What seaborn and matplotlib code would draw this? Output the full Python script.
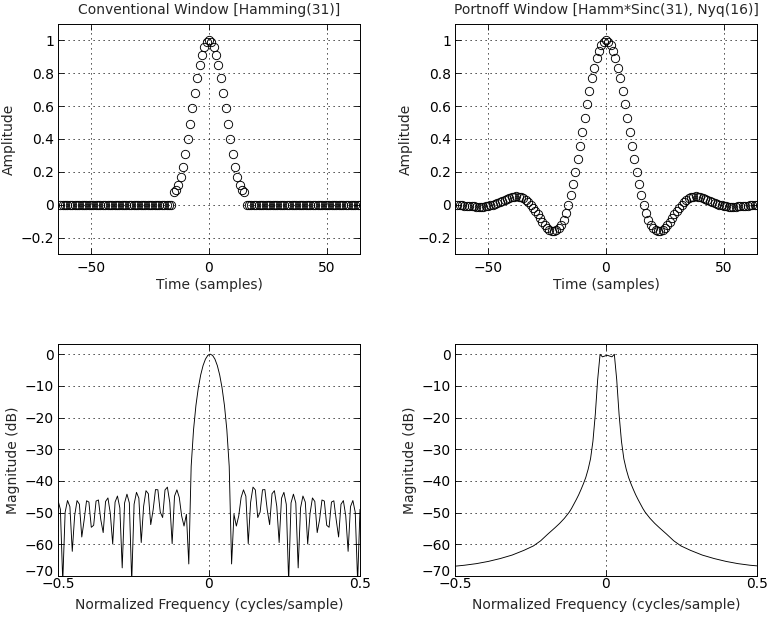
import numpy as np
import pandas as pd
import matplotlib
matplotlib.use("Agg")
import matplotlib.pyplot as plt
import matplotlib.transforms as mtransforms
import seaborn as sns

# ---------------- data ----------------
time_samples = list(range(-63, 65))  # 128 samples

hamming31 = [0.080, 0.090, 0.120, 0.168, 0.232, 0.310, 0.398, 0.492, 0.588, 0.682,
             0.770, 0.848, 0.912, 0.960, 0.990, 1.000, 0.990, 0.960, 0.912, 0.848,
             0.770, 0.682, 0.588, 0.492, 0.398, 0.310, 0.232, 0.168, 0.120, 0.090, 0.080]
conventional_window = [0.0] * 48 + hamming31 + [0.0] * 49

portnoff_window = [
    -0.0013, -0.0026, -0.0039, -0.0053, -0.0067, -0.0081, -0.0094, -0.0105, -0.0113, -0.0117,
    -0.0116, -0.0109, -0.0095, -0.0072, -0.0040, 0.0, 0.0049, 0.0105, 0.0167, 0.0233,
    0.0299, 0.0362, 0.0418, 0.0463, 0.0493, 0.0503, 0.0490, 0.0450, 0.0382, 0.0284,
    0.0156, 0.0, -0.0180, -0.0380, -0.0593, -0.0810, -0.1022, -0.1219, -0.1389, -0.1519,
    -0.1600, -0.1619, -0.1566, -0.1432, -0.1212, -0.0901, -0.0496, 0.0, 0.0583, 0.1247,
    0.1980, 0.2768, 0.3598, 0.4450, 0.5305, 0.6143, 0.6944, 0.7687, 0.8352, 0.8924,
    0.9385, 0.9723, 0.9930, 1.0, 0.9930, 0.9723, 0.9385, 0.8924, 0.8352, 0.7687,
    0.6944, 0.6143, 0.5305, 0.4450, 0.3598, 0.2768, 0.1980, 0.1247, 0.0583, 0.0,
    -0.0496, -0.0901, -0.1212, -0.1432, -0.1566, -0.1619, -0.1600, -0.1519, -0.1389, -0.1219,
    -0.1022, -0.0810, -0.0593, -0.0380, -0.0180, 0.0, 0.0156, 0.0284, 0.0382, 0.0450,
    0.0490, 0.0503, 0.0493, 0.0463, 0.0418, 0.0362, 0.0299, 0.0233, 0.0167, 0.0105,
    0.0049, 0.0, -0.0040, -0.0072, -0.0095, -0.0109, -0.0116, -0.0117, -0.0113, -0.0105,
    -0.0094, -0.0081, -0.0067, -0.0053, -0.0039, -0.0026, -0.0013, 0.0]

# spectrum of the conventional window, one value per FFT bin (-64 .. 63)
conventional_db = [
    -46.17, -48.96, -71.8, -49.90, -46.18, -48.13, -62.22, -50.99, -46.21, -47.37,
    -57.69, -52.31, -46.27, -46.67, -54.63, -54.00, -46.36, -46.01, -52.25, -56.30,
    -46.49, -45.37, -50.27, -59.89, -46.68, -44.76, -48.52, -67.44, -46.95, -44.17,
    -46.93, -71.8, -47.36, -43.60, -45.44, -59.44, -48.02, -43.09, -44.05, -53.79,
    -49.17, -42.74, -42.80, -49.82, -51.56, -42.85, -41.96, -46.77, -59.78, -44.82,
    -42.81, -45.23, -51.07, -54.24, -50.54, -66.2, -35.40, -23.83, -16.21, -10.68,
    -6.58, -3.61, -1.58, -0.39, 0.0, -0.39, -1.58, -3.61, -6.58, -10.68,
    -16.21, -23.83, -35.40, -66.2, -50.54, -54.24, -51.07, -45.23, -42.81, -44.82,
    -59.78, -46.77, -41.96, -42.85, -51.56, -49.82, -42.80, -42.74, -49.17, -53.79,
    -44.05, -43.09, -48.02, -59.44, -45.44, -43.60, -47.36, -71.8, -46.93, -44.17,
    -46.95, -67.44, -48.52, -44.76, -46.68, -59.89, -50.27, -45.37, -46.49, -56.30,
    -52.25, -46.01, -46.36, -54.00, -54.63, -46.67, -46.27, -52.31, -57.69, -47.37,
    -46.21, -50.99, -62.22, -48.13, -46.18, -49.90, -71.8, -48.96]

# spectrum of the Portnoff window, read at selected FFT bins
portnoff_bins = [-64, -60, -55, -50, -45, -40, -35, -31, -28, -25, -22, -20, -18, -16,
                 -15, -14, -13, -12, -11, -10, -9, -8, -7, -6, -5, -4, -3, -2, -1,
                 0, 1, 2, 3, 4, 5, 6, 7, 8, 9, 10, 11, 12, 13, 14, 15, 16, 18, 20,
                 22, 25, 28, 31, 35, 40, 45, 50, 55, 60, 63]
portnoff_db = [-66.9, -66.6, -66.1, -65.4, -64.5, -63.4, -61.9, -60.5, -58.9, -56.8,
               -54.8, -53.4, -51.8, -49.9, -48.7, -47.3, -45.9, -44.4, -42.7, -40.9,
               -38.9, -36.3, -33.0, -27.5, -19.0, -8.0, -0.05, -0.85, -0.6,
               -0.35, -0.6, -0.85, -0.05, -8.0, -19.0, -27.5, -33.0, -36.3, -38.9,
               -40.9, -42.7, -44.4, -45.9, -47.3, -48.7, -49.9, -51.8, -53.4,
               -54.8, -56.8, -58.9, -60.5, -61.9, -63.4, -64.5, -65.4, -66.1, -66.6, -66.8]

amp_ticks = [-0.2, 0, 0.2, 0.4, 0.6, 0.8, 1]
amp_labels = ["\u22120.2", "0", "0.2", "0.4", "0.6", "0.8", "1"]
time_ticks = [-50, 0, 50]
time_labels = ["\u221250", "0", "50"]
db_ticks = [-70, -60, -50, -40, -30, -20, -10, 0]
db_labels = ["\u221270", "\u221260", "\u221250", "\u221240", "\u221230", "\u221220", "\u221210", "0"]
freq_ticks = [-0.5, 0, 0.5]
freq_labels = ["\u22120.5", "0", "0.5"]

# ---------------- style ----------------
sns.set_theme(style="white")
plt.rcParams["font.family"] = ["DejaVu Sans"]
FS = 10
plt.rcParams["font.size"] = FS
plt.rcParams["axes.linewidth"] = 0.7

fig = plt.figure(figsize=(7.67, 6.17), dpi=100)
fig.patch.set_facecolor("white")

W, H = 767.0, 617.0
def place(l, t, r, b):
    return [l / W, 1 - b / H, (r - l) / W, (b - t) / H]

ax_tl = fig.add_axes(place(58, 24, 360, 254))
ax_tr = fig.add_axes(place(455, 24, 757, 254))
ax_bl = fig.add_axes(place(58, 344, 360, 576))
ax_br = fig.add_axes(place(455, 344, 757, 576))

freq_grid = np.linspace(-0.5, 0.5, 128)

df_conv = pd.DataFrame({"n": time_samples, "w": conventional_window})
df_port = pd.DataFrame({"n": time_samples, "w": portnoff_window})
df_cdb = pd.DataFrame({"f": freq_grid, "db": conventional_db})
df_pdb = pd.DataFrame({"f": freq_grid[np.array(portnoff_bins) + 64], "db": portnoff_db})

marker_kw = dict(marker="o", linestyle="none", markerfacecolor="none",
                 markeredgecolor="black", markersize=6, markeredgewidth=0.65,
                 color="black", estimator=None, sort=False, legend=False)

sns.lineplot(data=df_conv, x="n", y="w", ax=ax_tl, **marker_kw)
sns.lineplot(data=df_port, x="n", y="w", ax=ax_tr, **marker_kw)
sns.lineplot(data=df_cdb, x="f", y="db", ax=ax_bl, color="black", linewidth=0.65,
             estimator=None, sort=False, legend=False)
sns.lineplot(data=df_pdb, x="f", y="db", ax=ax_br, color="black", linewidth=0.65,
             estimator=None, sort=False, legend=False)

def style(ax, xlim, ylim, xt, xl, yt, yl, xlabel, ylabel, title=None, xpad=5, lpad=2):
    ax.set_xlim(*xlim)
    ax.set_ylim(*ylim)
    ax.set_xticks(xt)
    ax.set_xticklabels(xl)
    ax.set_yticks(yt)
    ax.set_yticklabels(yl)
    ax.set_xlabel(xlabel, fontsize=FS, labelpad=lpad)
    ax.set_ylabel(ylabel, fontsize=FS, labelpad=3)
    if title:
        ax.set_title(title, fontsize=FS, pad=7)
    ax.grid(True, color="black", linestyle=(0, (1.5, 4.5)), linewidth=0.6)
    ax.tick_params(direction="in", length=4, width=0.6, top=True, right=True,
                   bottom=True, left=True, colors="black", labelsize=FS)
    ax.tick_params(axis="x", pad=xpad)
    ax.tick_params(axis="y", pad=3)
    for s in ax.spines.values():
        s.set_color("black")
        s.set_linewidth(0.7)
    ax.set_facecolor("white")

style(ax_tl, (-64, 64), (-0.3, 1.1), time_ticks, time_labels, amp_ticks, amp_labels,
      "Time (samples)", "Amplitude", "Conventional Window [Hamming(31)]")
style(ax_tr, (-64, 64), (-0.3, 1.1), time_ticks, time_labels, amp_ticks, amp_labels,
      "Time (samples)", "Amplitude", "Portnoff Window [Hamm*Sinc(31), Nyq(16)]")
style(ax_bl, (-0.5, 0.5), (-70, 3.2), freq_ticks, freq_labels, db_ticks, db_labels,
      "Normalized Frequency (cycles/sample)", "Magnitude (dB)", xpad=1, lpad=5)
style(ax_br, (-0.5, 0.5), (-70, 3.2), freq_ticks, freq_labels, db_ticks, db_labels,
      "Normalized Frequency (cycles/sample)", "Magnitude (dB)", xpad=1, lpad=5)

# lift the lowest dB label slightly, as in the reference, so it clears "-0.5"
for ax in (ax_bl, ax_br):
    lbl = ax.get_yticklabels()[0]
    lbl.set_transform(lbl.get_transform() +
                      mtransforms.ScaledTranslation(0, 5 / 100.0, fig.dpi_scale_trans))
    lbl.set_verticalalignment("center_baseline")

fig.savefig("out.png", dpi=100, facecolor="white")
